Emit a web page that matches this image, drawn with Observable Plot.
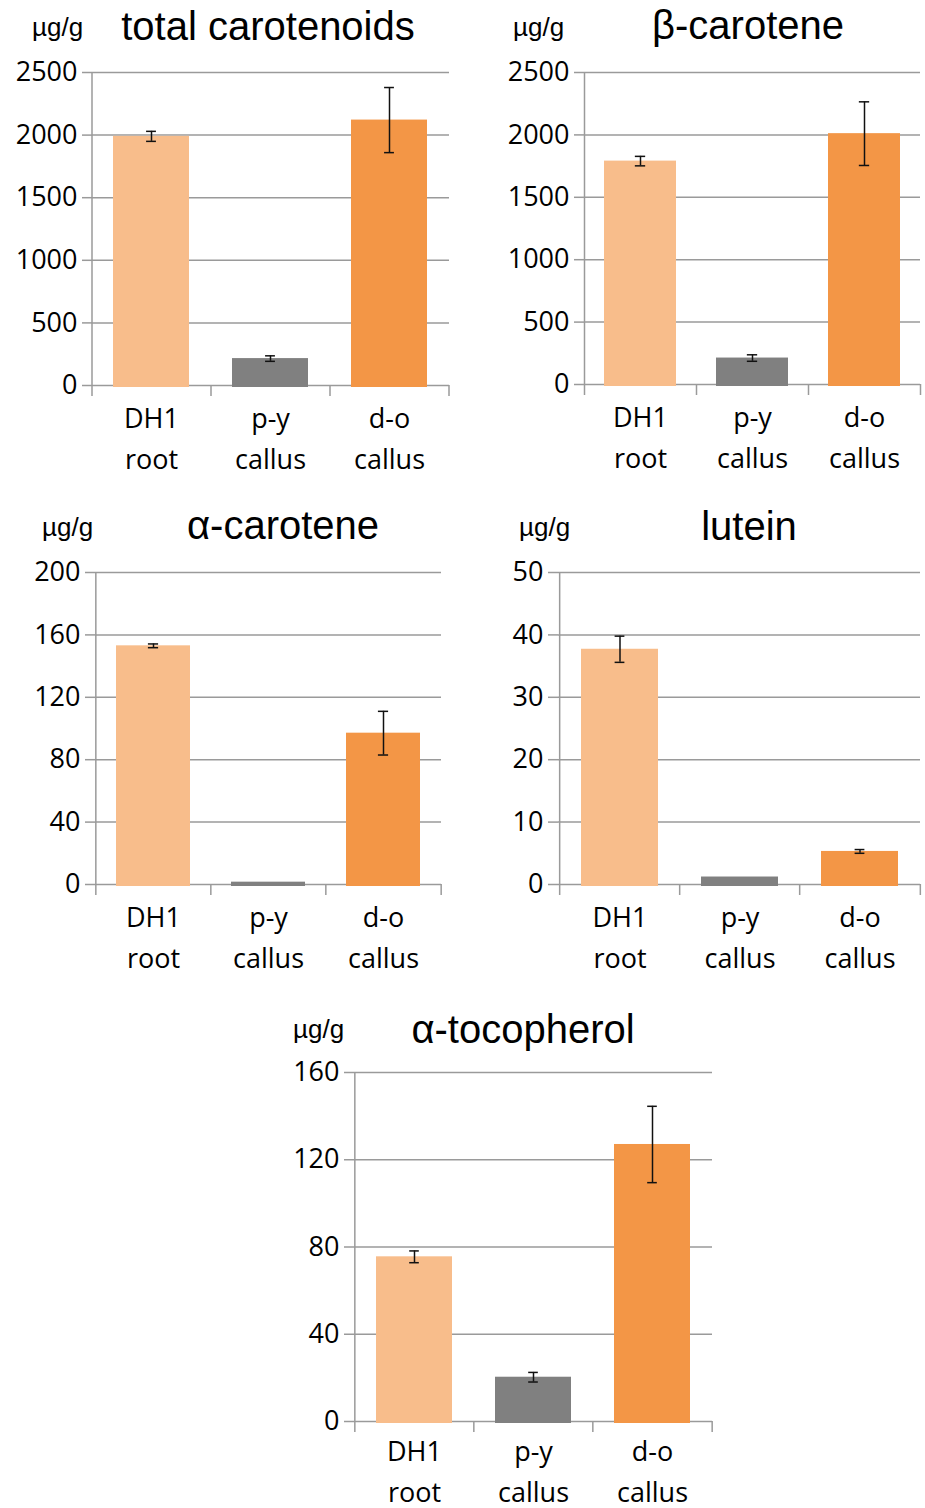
<!DOCTYPE html>
<html><head><meta charset="utf-8">
<script src="https://cdn.jsdelivr.net/npm/d3@7"></script>
<script src="https://cdn.jsdelivr.net/npm/@observablehq/plot@0.6"></script>
<style>
html,body{margin:0;padding:0;background:#fff;overflow:hidden}
#root{position:relative;width:925px;height:1508px}
.title{position:absolute;font-family:"Liberation Sans",Arial,sans-serif;font-size:40px;line-height:40px;width:400px;text-align:center;color:#000;white-space:nowrap}
.unit{position:absolute;font-family:"Liberation Sans",Arial,sans-serif;font-size:26px;line-height:26px;color:#000;white-space:nowrap}
.panel{position:absolute}
</style></head><body><div id="root"></div>
<script>
// ---- data ----
const categories = ["DH1\nroot", "p-y\ncallus", "d-o\ncallus"];
const barColors = ["#F8BD8B", "#808080", "#F39646"];
const unitLabel = "µg/g";

const totalTitle = "total carotenoids";
const totalValues = [1990, 215, 2120];
const totalErrors = [40, 22, 260];
const totalTicks = [0, 500, 1000, 1500, 2000, 2500];

const betaTitle = "β-carotene";
const betaValues = [1790, 212, 2010];
const betaErrors = [38, 26, 255];
const betaTicks = [0, 500, 1000, 1500, 2000, 2500];

const alphaTitle = "α-carotene";
const alphaValues = [153, 1.5, 97];
const alphaErrors = [1.2, 0, 14];
const alphaTicks = [0, 40, 80, 120, 160, 200];

const luteinTitle = "lutein";
const luteinValues = [37.7, 1.2, 5.3];
const luteinErrors = [2.1, 0, 0.3];
const luteinTicks = [0, 10, 20, 30, 40, 50];

const tocoTitle = "α-tocopherol";
const tocoValues = [75.5, 20.3, 127];
const tocoErrors = [2.7, 2.2, 17.5];
const tocoTicks = [0, 40, 80, 120, 160];

// ---- layout ----
const panels = [
  {title: totalTitle, vals: totalValues, errs: totalErrors, ticks: totalTicks,
   left: 0, top: 52, w: 460, h: 433, ml: 92, mr: 11, mt: 20, mb: 100, pad: 14,
   tCenter: 268, tTop: 6, uLeft: 32, uTop: 14},
  {title: betaTitle, vals: betaValues, errs: betaErrors, ticks: betaTicks,
   left: 460, top: 52, w: 465, h: 432, ml: 124, mr: 5, mt: 20, mb: 100, pad: 14,
   tCenter: 748, tTop: 5, uLeft: 513, uTop: 14},
  {title: alphaTitle, vals: alphaValues, errs: alphaErrors, ticks: alphaTicks,
   left: 0, top: 552, w: 460, h: 432, ml: 95, mr: 19, mt: 20, mb: 100, pad: 14,
   tCenter: 283, tTop: 505, uLeft: 42, uTop: 514},
  {title: luteinTitle, vals: luteinValues, errs: luteinErrors, ticks: luteinTicks,
   left: 460, top: 552, w: 465, h: 432, ml: 98, mr: 5, mt: 20, mb: 100, pad: 14,
   tCenter: 749, tTop: 506, uLeft: 519, uTop: 514},
  {title: tocoTitle, vals: tocoValues, errs: tocoErrors, ticks: tocoTicks,
   left: 270, top: 1052, w: 460, h: 456, ml: 84, mr: 18, mt: 20, mb: 87, pad: 11,
   tCenter: 523, tTop: 1009, uLeft: 293, uTop: 1016}
];

const root = document.getElementById("root");
const gray = "#9a9a9a";

for (const p of panels) {
  const data = categories.map((c, i) => ({cat: c, v: p.vals[i], e: p.errs[i]}));
  const errData = data.filter(d => d.e > 0);
  const W = p.w - p.ml - p.mr;
  const step = W / 3;
  const bw = step * 0.64;
  const capInset = (bw - 10) / 2;
  const chart = Plot.plot({
    width: p.w, height: p.h,
    marginLeft: p.ml, marginRight: p.mr, marginTop: p.mt, marginBottom: p.mb,
    style: {fontFamily: '"Open Sans", sans-serif', fontSize: "27px", color: "#000", background: "transparent", overflow: "visible"},
    x: {domain: categories, paddingInner: 0.36, paddingOuter: 0.18},
    y: {domain: [0, p.ticks[p.ticks.length - 1]]},
    color: {domain: categories, range: barColors},
    marks: [
      Plot.gridY(p.ticks, {stroke: gray, strokeOpacity: 1, strokeWidth: 1.5}),
      Plot.axisY(p.ticks, {tickSize: 10, tickPadding: 5, stroke: gray, strokeWidth: 1.5, fill: "#000", fontSize: 27, label: null, tickFormat: d => String(d)}),
      Plot.ruleX([categories[0]], {x: d => d, dx: -step / 2, stroke: gray, strokeWidth: 1.5}),
      Plot.axisX(categories, {tickSize: 11, fill: "none", stroke: gray, strokeWidth: 1.5, dx: -step / 2, label: null}),
      Plot.axisX([categories[2]], {tickSize: 11, fill: "none", stroke: gray, strokeWidth: 1.5, dx: step / 2, label: null}),
      Plot.barY(data, {x: "cat", y: "v", fill: "cat", insetBottom: -2}),
      Plot.ruleX(errData, {x: "cat", y1: d => d.v - d.e, y2: d => d.v + d.e, stroke: "#111", strokeWidth: 1.5}),
      Plot.tickY(errData, {x: "cat", y: d => d.v + d.e, stroke: "#111", strokeWidth: 1.5, inset: capInset}),
      Plot.tickY(errData, {x: "cat", y: d => d.v - d.e, stroke: "#111", strokeWidth: 1.5, inset: capInset}),
      Plot.axisX(categories, {tickSize: 0, tickPadding: p.pad, fontSize: 27, lineHeight: 1.5, fill: "#000", label: null})
    ]
  });
  const wrap = document.createElement("div");
  wrap.className = "panel";
  wrap.style.left = p.left + "px";
  wrap.style.top = p.top + "px";
  wrap.appendChild(chart);
  root.appendChild(wrap);

  const t = document.createElement("div");
  t.className = "title";
  t.textContent = p.title;
  t.style.left = (p.tCenter - 200) + "px";
  t.style.top = p.tTop + "px";
  root.appendChild(t);

  const u = document.createElement("div");
  u.className = "unit";
  u.textContent = unitLabel;
  u.style.left = p.uLeft + "px";
  u.style.top = p.uTop + "px";
  root.appendChild(u);
}
</script>
</body></html>
